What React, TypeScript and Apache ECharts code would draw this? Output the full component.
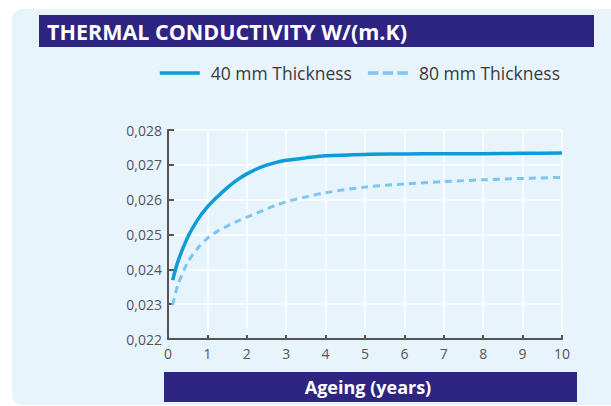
import React, { useEffect, useRef } from "react";
import * as echarts from "echarts";

const titleText = "THERMAL CONDUCTIVITY W/(m.K)";
const xAxisTitle = "Ageing (years)";
const seriesNames = ["40 mm Thickness", "80 mm Thickness"];

const years = [0.12, 0.25, 0.5, 0.75, 1, 1.25, 1.5, 1.75, 2, 2.25, 2.5, 2.75, 3, 3.5, 4, 5, 6, 7, 8, 9, 10];
const values40 = [0.02369, 0.02422, 0.02492, 0.02542, 0.02579, 0.02608, 0.02634, 0.02656, 0.02674, 0.02688, 0.02699, 0.02707, 0.02713, 0.0272, 0.02726, 0.0273, 0.02731, 0.02732, 0.02732, 0.02733, 0.02734];
const values80 = [0.02298, 0.02355, 0.0242, 0.0246, 0.02489, 0.02509, 0.02524, 0.02538, 0.0255, 0.02561, 0.02573, 0.02584, 0.02594, 0.02608, 0.0262, 0.02636, 0.02645, 0.02652, 0.02657, 0.02661, 0.02664];

const yMin = 0.022;
const yMax = 0.028;
const yStep = 0.001;
const xMin = 0;
const xMax = 10;
const xStep = 1;

const FONT = "'Open Sans', 'Noto Sans', sans-serif";
const NAVY = "#2e2482";
const BG = "#e8f4fc";
const SOLID = "#0d9bd9";
const DASHED = "#7cc6ef";

export default function App() {
  const ref = useRef<HTMLDivElement>(null);
  useEffect(() => {
    if (!ref.current) return;
    const chart = echarts.init(ref.current, undefined, { renderer: "svg" });
    const option = {
      animation: false,
      backgroundColor: "#ffffff",
      textStyle: { fontFamily: FONT },
      graphic: [
        {
          type: "rect",
          shape: { x: 12, y: 9, width: 640, height: 396, r: 10 },
          style: { fill: BG },
          z: -10,
        },
        {
          type: "rect",
          shape: { x: 39, y: 15, width: 555, height: 32 },
          style: { fill: NAVY },
          z: -5,
        },
        {
          type: "text",
          x: 47,
          y: 31,
          style: {
            text: titleText,
            fill: "#ffffff",
            font: `bold 21.5px ${FONT}`,
            verticalAlign: "middle",
          },
        },
        {
          type: "rect",
          shape: { x: 164, y: 372, width: 413, height: 30 },
          style: { fill: NAVY },
          z: -5,
        },
        {
          type: "text",
          x: 368,
          y: 387,
          style: {
            text: xAxisTitle,
            fill: "#ffffff",
            font: `bold 18px ${FONT}`,
            align: "center",
            verticalAlign: "middle",
          },
        },
      ],
      legend: {
        top: 59,
        right: 46,
        itemWidth: 40,
        itemHeight: 3.5,
        itemGap: 16,
        textStyle: { fontFamily: FONT, fontSize: 17.5, color: "#3a3a3a", padding: [0, 0, 0, 6] },
        data: [
          { name: seriesNames[0], icon: "rect" },
          {
            name: seriesNames[1],
            icon: "path://M0,0h10.5v3.5h-10.5z M14.75,0h10.5v3.5h-10.5z M29.5,0h10.5v3.5h-10.5z",
          },
        ],
      },
      grid: { left: 168, right: 49, top: 130, bottom: 67, containLabel: false },
      xAxis: {
        type: "value",
        min: xMin,
        max: xMax,
        interval: xStep,
        axisLine: { show: true, lineStyle: { color: "#555555", width: 2 } },
        axisTick: { show: true, inside: true, length: 4, lineStyle: { color: "#555555", width: 2 } },
        axisLabel: { color: "#555555", fontSize: 14, margin: 7, fontFamily: FONT },
        splitLine: { show: true, lineStyle: { color: "#ffffff", width: 1.5 } },
      },
      yAxis: {
        type: "value",
        min: yMin,
        max: yMax,
        interval: yStep,
        axisLine: { show: true, lineStyle: { color: "#555555", width: 2 } },
        axisTick: { show: true, inside: true, length: 6, lineStyle: { color: "#555555", width: 2 } },
        axisLabel: {
          color: "#555555",
          fontSize: 14,
          margin: 6,
          fontFamily: FONT,
          formatter: (v: number) => v.toFixed(3).replace(".", ","),
        },
        splitLine: { show: true, lineStyle: { color: "#ffffff", width: 1.5 } },
      },
      series: [
        {
          name: seriesNames[0],
          type: "line",
          data: years.map((x, i) => [x, values40[i]]),
          smooth: 0.3,
          symbol: "none",
          lineStyle: { color: SOLID, width: 3.5 },
          itemStyle: { color: SOLID },
          z: 3,
        },
        {
          name: seriesNames[1],
          type: "line",
          data: years.map((x, i) => [x, values80[i]]),
          smooth: 0.3,
          symbol: "none",
          lineStyle: { color: DASHED, width: 3, type: [7, 5] },
          itemStyle: { color: DASHED },
          z: 2,
        },
      ],
    };
    chart.setOption(option as any);
    return () => chart.dispose();
  }, []);
  return (
    <div
      ref={ref}
      style={{ position: "fixed", left: 0, top: 0, width: 611, height: 406 }}
    />
  );
}
